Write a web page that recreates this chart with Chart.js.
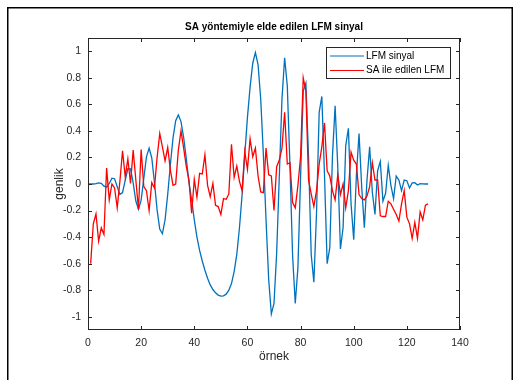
<!DOCTYPE html>
<html><head><meta charset="utf-8">
<script src="https://cdn.jsdelivr.net/npm/chart.js@4.4.1/dist/chart.umd.min.js"></script>
<style>html,body{margin:0;padding:0;background:#fff;}canvas{display:block;}</style>
</head><body>
<canvas id="c" width="519" height="380"></canvas>
<script>
const chartTitle = 'SA yöntemiyle elde edilen LFM sinyal';
const xLabel = 'örnek';
const yLabel = 'genlik';
const seriesNames = ['LFM sinyal', 'SA ile edilen LFM'];
const xTicks = [0, 20, 40, 60, 80, 100, 120, 140];
const xTickLabels = ['0', '20', '40', '60', '80', '100', '120', '140'];
const yTicks = [-1, -0.8, -0.6, -0.4, -0.2, 0, 0.2, 0.4, 0.6, 0.8, 1];
const yTickLabels = ['-1', '-0.8', '-0.6', '-0.4', '-0.2', '0', '0.2', '0.4', '0.6', '0.8', '1'];
const lfmStart = 0;
const saStart = 1;
const lfmValues = [
 0, 0, 0, 0.002, 0.009, 0.005, -0.016, -0.024, 0.004, 0.044,
 0.04, -0.021, -0.078, -0.064, 0.027, 0.115, 0.114, 0.008, -0.128, -0.19,
 -0.122, 0.042, 0.205, 0.27, 0.196, 0.013, -0.195, -0.34, -0.375, -0.27,
 -0.078, 0.147, 0.347, 0.477, 0.52, 0.47, 0.35, 0.19, 0.01, -0.12,
 -0.27, -0.40, -0.50, -0.58, -0.65, -0.71, -0.76, -0.795, -0.82, -0.837,
 -0.845, -0.843, -0.83, -0.80, -0.75, -0.66, -0.53, -0.33, -0.08, 0.22,
 0.50, 0.73, 0.91, 0.99, 0.9, 0.64, 0.22, -0.27, -0.72, -0.98,
 -0.9, -0.52, 0.06, 0.64, 0.95, 0.74, 0.14, -0.54, -0.9, -0.63,
 0.05, 0.7, 0.76, 0.2, -0.53, -0.74, -0.22, 0.54, 0.66, 0.07,
 -0.6, -0.48, 0.21, 0.59, 0.13, -0.49, -0.33, 0.29, 0.42, -0.15,
 -0.42, 0.06, 0.38, -0.02, -0.33, 0.03, 0.28, -0.06, -0.23, 0.1,
 0.17, -0.13, -0.07, 0.14, -0.01, -0.11, 0.06, 0.03, -0.05, 0.03,
 0.025, -0.03, 0.008, 0.01, -0.008, 0.003, 0.001, 0, 0
];
const saValues = [
 -0.60, -0.30, -0.225, -0.43, -0.33, -0.38, 0.12, -0.12, 0.0, -0.03,
 -0.18, 0.02, 0.25, 0.055, 0.19, 0.005, 0.255, 0.03, -0.19, 0.26,
 -0.02, -0.05, -0.20, 0.01, -0.03, 0.20, 0.38, 0.28, 0.175, 0.275,
 0.105, -0.01, 0.0, 0.255, 0.40, 0.27, 0.13, 0.03, -0.22, 0.035,
 -0.10, 0.08, 0.075, 0.22, -0.01, -0.095, 0.005, -0.16, -0.17, -0.23,
 -0.11, -0.115, -0.075, 0.30, 0.05, 0.135, 0.02, -0.05, 0.245, 0.11,
 0.34, 0.205, 0.27, 0.06, -0.06, -0.065, 0.27, 0.07, 0.06, -0.20,
 0.13, 0.18, 0.27, 0.54, 0.15, 0.16, -0.14, -0.18, -0.01, 0.205,
 0.80, 0.70, 0.03, -0.075, -0.17, -0.05, 0.15, 0.28, 0.46, 0.10,
 0.06, -0.05, -0.12, 0.07, -0.08, 0.0, -0.18, -0.05, 0.24, 0.18,
 0.15, -0.08, -0.11, -0.12, -0.09, -0.02, 0.16, 0.03, 0.03, -0.24,
 -0.245, -0.245, -0.13, -0.15, -0.19, -0.23, -0.28, -0.15, -0.05, -0.25,
 -0.30, -0.41, -0.29, -0.41, -0.21, -0.27, -0.16, -0.15
];
const seriesColors = ['#0072BD', '#FF0000'];
const FONT = '"Liberation Sans", Arial, Helvetica, sans-serif';
const axisColor = '#262626';

const decor = {
  id: 'decor',
  afterDraw(chart) {
    const ctx = chart.ctx;
    const a = chart.chartArea;
    const xs = chart.scales.x, ys = chart.scales.y;
    ctx.save();
    ctx.strokeStyle = axisColor;
    ctx.lineWidth = 1;
    ctx.strokeRect(Math.round(a.left) + 0.5, Math.round(a.top) + 0.5,
      Math.round(a.right - a.left) - 1, Math.round(a.bottom - a.top) - 1);
    const tl = 4;
    ctx.beginPath();
    xTicks.forEach(v => {
      const p = Math.round(xs.getPixelForValue(v)) + 0.5;
      ctx.moveTo(p, a.bottom); ctx.lineTo(p, a.bottom - tl);
      ctx.moveTo(p, a.top); ctx.lineTo(p, a.top + tl);
    });
    yTicks.forEach(v => {
      const p = Math.round(ys.getPixelForValue(v)) + 0.5;
      ctx.moveTo(a.left, p); ctx.lineTo(a.left + tl, p);
      ctx.moveTo(a.right, p); ctx.lineTo(a.right - tl, p);
    });
    ctx.stroke();
    const cx = (a.left + a.right) / 2, cy = (a.top + a.bottom) / 2;
    ctx.fillStyle = '#000';
    ctx.textAlign = 'center';
    ctx.textBaseline = 'middle';
    ctx.font = 'bold 10px ' + FONT;
    ctx.fillText(chartTitle, cx, 27);
    ctx.fillStyle = axisColor;
    ctx.font = '12px ' + FONT;
    ctx.fillText(xLabel, cx, 357);
    ctx.save();
    ctx.translate(60, cy);
    ctx.rotate(-Math.PI / 2);
    ctx.fillText(yLabel, 0, 0);
    ctx.restore();
    const lx = 326, ly = 47, lw = 124, lh = 31;
    ctx.fillStyle = '#fff';
    ctx.fillRect(lx, ly, lw, lh);
    ctx.strokeStyle = axisColor;
    ctx.lineWidth = 1;
    ctx.strokeRect(lx + 0.5, ly + 0.5, lw, lh);
    ctx.font = '10px ' + FONT;
    ctx.textAlign = 'left';
    seriesNames.forEach((name, i) => {
      const yy = 56 + i * 14.5;
      ctx.strokeStyle = seriesColors[i];
      ctx.lineWidth = 1.2;
      ctx.beginPath();
      ctx.moveTo(330, yy); ctx.lineTo(364, yy);
      ctx.stroke();
      ctx.fillStyle = '#000';
      ctx.fillText(name, 366, yy);
    });
    ctx.strokeStyle = '#000';
    ctx.lineWidth = 1.5;
    ctx.strokeRect(7.75, 7.75, 504.5, 400);
    ctx.restore();
  }
};

new Chart(document.getElementById('c').getContext('2d'), {
  type: 'line',
  data: {
    datasets: [
      { label: seriesNames[0], data: lfmValues.map((v, i) => ({ x: lfmStart + i, y: v })),
        borderColor: seriesColors[0], borderWidth: 1.3, pointRadius: 0, tension: 0, fill: false, order: 1 },
      { label: seriesNames[1], data: saValues.map((v, i) => ({ x: saStart + i, y: v })),
        borderColor: seriesColors[1], borderWidth: 1.3, pointRadius: 0, tension: 0, fill: false, order: 0 }
    ]
  },
  options: {
    responsive: false, animation: false, devicePixelRatio: 1,
    layout: { padding: { left: 0, top: 38, right: 59, bottom: 0 } },
    plugins: { legend: { display: false }, tooltip: { enabled: false }, title: { display: false } },
    scales: {
      x: {
        type: 'linear', min: 0, max: 140,
        grid: { display: false, drawTicks: false }, border: { display: false },
        afterBuildTicks: s => { s.ticks = xTicks.map(v => ({ value: v })); },
        afterFit: s => { s.height = 50; },
        ticks: { padding: 7, color: axisColor, autoSkip: false, maxRotation: 0,
          font: { family: FONT, size: 10.5 }, callback: (v, i) => xTickLabels[i] }
      },
      y: {
        type: 'linear', min: -1.1, max: 1.1,
        grid: { display: false, drawTicks: false }, border: { display: false },
        afterBuildTicks: s => { s.ticks = yTicks.map(v => ({ value: v })); },
        afterFit: s => { s.width = 88; },
        ticks: { padding: 7, color: axisColor, autoSkip: false,
          font: { family: FONT, size: 10.5 }, callback: (v, i) => yTickLabels[i] }
      }
    }
  },
  plugins: [decor]
});
</script>
</body></html>
